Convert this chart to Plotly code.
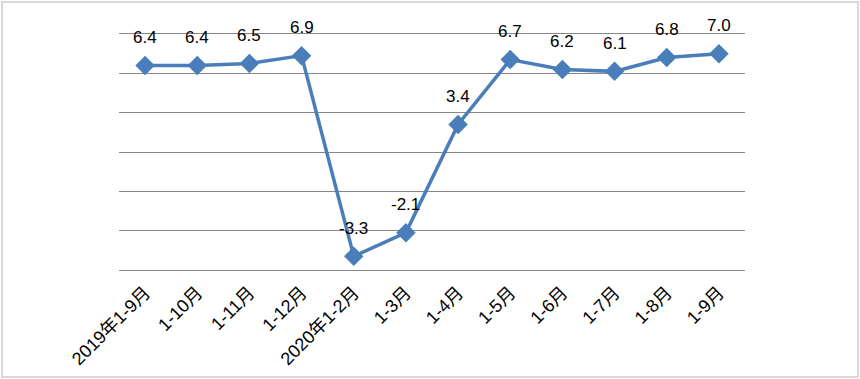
import plotly.graph_objects as go

categories = ["2019年1-9月", "1-10月", "1-11月", "1-12月", "2020年1-2月", "1-3月",
              "1-4月", "1-5月", "1-6月", "1-7月", "1-8月", "1-9月"]
values = [6.4, 6.4, 6.5, 6.9, -3.3, -2.1, 3.4, 6.7, 6.2, 6.1, 6.8, 7.0]

W, H = 860, 379
ML, MR, MT, MB = 119, 115, 34, 109

fig = go.Figure()
fig.add_trace(go.Scatter(
    x=list(range(len(categories))), y=values, mode="lines+markers",
    line=dict(color="#4A7EBB", width=3.5),
    marker=dict(symbol="diamond", size=15, color="#4A7EBB"),
    hoverinfo="skip", showlegend=False,
))

for i, v in enumerate(values):
    fig.add_annotation(x=i, y=v, text=f"{v:.1f}", showarrow=False, yshift=28,
                       font=dict(family="Liberation Sans, Arial", size=17, color="#000"))

pw = W - ML - MR
ph = H - MT - MB
def px(x): return (x - ML) / pw
def py(y): return (H - MB - y) / ph

fig.add_shape(type="rect", xref="paper", yref="paper",
              x0=px(2), x1=px(858), y0=py(377), y1=py(2),
              line=dict(color="#D9D9D9", width=2), layer="below")

fig.update_layout(
    width=W, height=H, margin=dict(l=ML, r=MR, t=MT, b=MB),
    paper_bgcolor="white", plot_bgcolor="white",
    xaxis=dict(tickmode="array", tickvals=list(range(len(categories))), ticktext=categories,
               range=[-0.5, 11.5], tickangle=-45, showgrid=False, zeroline=False,
               showline=True, mirror=True, linecolor="#868686", linewidth=1,
               ticks="outside", ticklen=4, tickcolor="rgba(0,0,0,0)",
               automargin=False,
               tickfont=dict(family="Liberation Sans, Noto Sans CJK SC", size=18, color="#000")),
    yaxis=dict(range=[-4, 8], dtick=2, showticklabels=False, showgrid=True,
               gridcolor="#868686", gridwidth=1, zeroline=False, showline=False),
)

fig.write_html("out.html", config={"displayModeBar": False, "staticPlot": True},
               post_script="document.body.style.margin='0';")
